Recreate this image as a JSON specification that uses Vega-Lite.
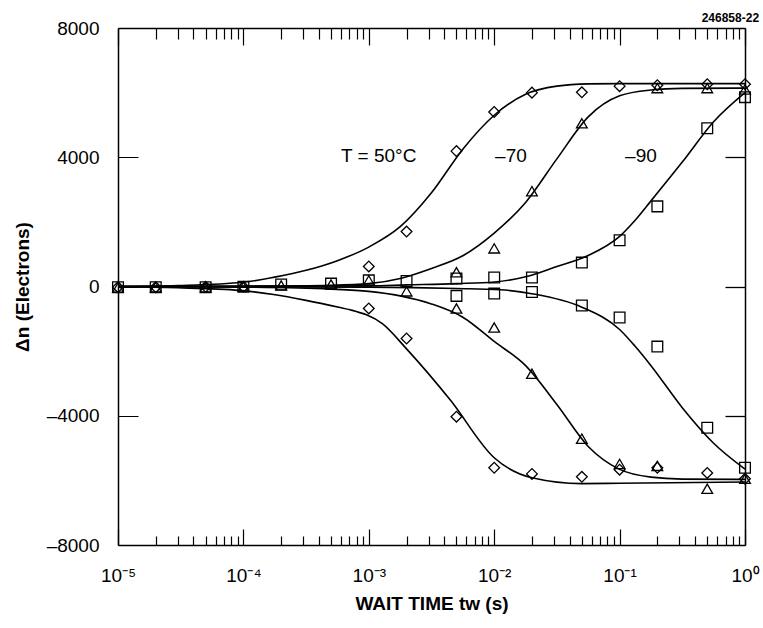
{
  "$schema": "https://vega.github.io/schema/vega-lite/v6.json",
  "autosize": "none",
  "width": 627,
  "height": 517,
  "padding": {"left": 118, "top": 28, "right": 18, "bottom": 83},
  "background": "white",
  "title": {"text": "246858-22", "anchor": "end", "fontSize": 12, "font": "Liberation Sans", "fontWeight": "bold", "color": "black", "offset": 4, "dy": 10},
  "config": {
    "view": {"stroke": null},
    "font": "Liberation Sans",
    "axis": {"grid": false, "domainColor": "black", "domainWidth": 1.5, "labelColor": "black", "titleColor": "black", "labelFont": "Liberation Sans", "titleFont": "Liberation Sans"}
  },
  "datasets": {
    "pts": [
      {"t": 1e-5, "n": -20, "s": "50"}, {"t": 2e-5, "n": -20, "s": "50"}, {"t": 5e-5, "n": -10, "s": "50"}, {"t": 1e-4, "n": -10, "s": "50"},
      {"t": 1e-3, "n": 620, "s": "50"}, {"t": 2e-3, "n": 1700, "s": "50"}, {"t": 5e-3, "n": 4190, "s": "50"}, {"t": 1e-2, "n": 5400, "s": "50"},
      {"t": 2e-2, "n": 6000, "s": "50"}, {"t": 5e-2, "n": 6010, "s": "50"}, {"t": 0.1, "n": 6200, "s": "50"}, {"t": 0.2, "n": 6230, "s": "50"},
      {"t": 0.5, "n": 6260, "s": "50"}, {"t": 1, "n": 6260, "s": "50"},
      {"t": 1e-3, "n": -680, "s": "50"}, {"t": 2e-3, "n": -1610, "s": "50"}, {"t": 5e-3, "n": -4030, "s": "50"}, {"t": 1e-2, "n": -5610, "s": "50"},
      {"t": 2e-2, "n": -5800, "s": "50"}, {"t": 5e-2, "n": -5890, "s": "50"}, {"t": 0.1, "n": -5670, "s": "50"}, {"t": 0.2, "n": -5610, "s": "50"},
      {"t": 0.5, "n": -5770, "s": "50"}, {"t": 1, "n": -5950, "s": "50"},
      {"t": 1e-5, "n": -30, "s": "-70"}, {"t": 2e-5, "n": -20, "s": "-70"}, {"t": 5e-5, "n": -20, "s": "-70"}, {"t": 1e-4, "n": -10, "s": "-70"},
      {"t": 2e-4, "n": 30, "s": "-70"}, {"t": 5e-4, "n": 60, "s": "-70"}, {"t": 1e-3, "n": 190, "s": "-70"},
      {"t": 5e-3, "n": 440, "s": "-70"}, {"t": 1e-2, "n": 1180, "s": "-70"}, {"t": 2e-2, "n": 2950, "s": "-70"}, {"t": 5e-2, "n": 5050, "s": "-70"},
      {"t": 0.2, "n": 6140, "s": "-70"}, {"t": 0.5, "n": 6140, "s": "-70"}, {"t": 1, "n": 6100, "s": "-70"},
      {"t": 2e-3, "n": -150, "s": "-70"}, {"t": 5e-3, "n": -680, "s": "-70"}, {"t": 1e-2, "n": -1270, "s": "-70"}, {"t": 2e-2, "n": -2700, "s": "-70"},
      {"t": 5e-2, "n": -4710, "s": "-70"}, {"t": 0.1, "n": -5490, "s": "-70"}, {"t": 0.2, "n": -5550, "s": "-70"}, {"t": 0.5, "n": -6260, "s": "-70"},
      {"t": 1, "n": -5950, "s": "-70"},
      {"t": 1e-5, "n": -20, "s": "-90"}, {"t": 2e-5, "n": -20, "s": "-90"}, {"t": 5e-5, "n": -20, "s": "-90"}, {"t": 1e-4, "n": -10, "s": "-90"},
      {"t": 2e-4, "n": 60, "s": "-90"}, {"t": 5e-4, "n": 90, "s": "-90"}, {"t": 1e-3, "n": 190, "s": "-90"}, {"t": 2e-3, "n": 170, "s": "-90"},
      {"t": 5e-3, "n": 250, "s": "-90"}, {"t": 1e-2, "n": 280, "s": "-90"}, {"t": 2e-2, "n": 280, "s": "-90"}, {"t": 5e-2, "n": 740, "s": "-90"},
      {"t": 0.1, "n": 1430, "s": "-90"}, {"t": 0.2, "n": 2480, "s": "-90"}, {"t": 0.5, "n": 4900, "s": "-90"}, {"t": 1, "n": 5860, "s": "-90"},
      {"t": 5e-3, "n": -290, "s": "-90"}, {"t": 1e-2, "n": -220, "s": "-90"}, {"t": 2e-2, "n": -170, "s": "-90"}, {"t": 5e-2, "n": -590, "s": "-90"},
      {"t": 0.1, "n": -960, "s": "-90"}, {"t": 0.2, "n": -1860, "s": "-90"}, {"t": 0.5, "n": -4370, "s": "-90"}, {"t": 1, "n": -5610, "s": "-90"}
    ],
    "curves": [
      {"t": 1e-5, "n": 0, "c": "50+"}, {"t": 3e-5, "n": 30, "c": "50+"}, {"t": 1e-4, "n": 130, "c": "50+"}, {"t": 1.78e-4, "n": 290, "c": "50+"},
      {"t": 3.16e-4, "n": 500, "c": "50+"}, {"t": 5.62e-4, "n": 800, "c": "50+"}, {"t": 1e-3, "n": 1220, "c": "50+"}, {"t": 1.78e-3, "n": 1850, "c": "50+"},
      {"t": 3.16e-3, "n": 2900, "c": "50+"}, {"t": 5.62e-3, "n": 4250, "c": "50+"}, {"t": 1e-2, "n": 5300, "c": "50+"}, {"t": 1.78e-2, "n": 5950, "c": "50+"},
      {"t": 3.16e-2, "n": 6200, "c": "50+"}, {"t": 5.62e-2, "n": 6270, "c": "50+"}, {"t": 0.1, "n": 6280, "c": "50+"}, {"t": 1, "n": 6280, "c": "50+"},
      {"t": 1e-5, "n": -10, "c": "50-"}, {"t": 3e-5, "n": -40, "c": "50-"}, {"t": 9.3e-5, "n": -120, "c": "50-"}, {"t": 1.74e-4, "n": -250, "c": "50-"},
      {"t": 3.16e-4, "n": -430, "c": "50-"}, {"t": 5.89e-4, "n": -650, "c": "50-"}, {"t": 7.1e-4, "n": -720, "c": "50-"}, {"t": 1.29e-3, "n": -1160, "c": "50-"},
      {"t": 2e-3, "n": -1930, "c": "50-"}, {"t": 4.5e-3, "n": -3530, "c": "50-"}, {"t": 1e-2, "n": -5300, "c": "50-"}, {"t": 2e-2, "n": -5920, "c": "50-"},
      {"t": 5e-2, "n": -6100, "c": "50-"}, {"t": 0.1, "n": -6090, "c": "50-"}, {"t": 1, "n": -6050, "c": "50-"},
      {"t": 1e-5, "n": 0, "c": "70+"}, {"t": 1e-4, "n": 10, "c": "70+"}, {"t": 5e-4, "n": 40, "c": "70+"}, {"t": 1e-3, "n": 90, "c": "70+"},
      {"t": 1.78e-3, "n": 250, "c": "70+"}, {"t": 3.16e-3, "n": 560, "c": "70+"}, {"t": 5.62e-3, "n": 950, "c": "70+"}, {"t": 1e-2, "n": 1650, "c": "70+"},
      {"t": 1.78e-2, "n": 2600, "c": "70+"}, {"t": 3.16e-2, "n": 3950, "c": "70+"}, {"t": 5.62e-2, "n": 5250, "c": "70+"}, {"t": 0.1, "n": 5900, "c": "70+"},
      {"t": 0.178, "n": 6080, "c": "70+"}, {"t": 0.316, "n": 6130, "c": "70+"}, {"t": 1, "n": 6140, "c": "70+"},
      {"t": 1e-5, "n": 0, "c": "70-"}, {"t": 1e-4, "n": -20, "c": "70-"}, {"t": 5e-4, "n": -80, "c": "70-"}, {"t": 1e-3, "n": -150, "c": "70-"},
      {"t": 1.78e-3, "n": -290, "c": "70-"}, {"t": 3.16e-3, "n": -540, "c": "70-"}, {"t": 5.62e-3, "n": -950, "c": "70-"}, {"t": 1e-2, "n": -1700, "c": "70-"},
      {"t": 1.78e-2, "n": -2450, "c": "70-"}, {"t": 3.16e-2, "n": -3650, "c": "70-"}, {"t": 5.62e-2, "n": -4950, "c": "70-"}, {"t": 0.1, "n": -5660, "c": "70-"},
      {"t": 0.178, "n": -5900, "c": "70-"}, {"t": 0.316, "n": -5960, "c": "70-"}, {"t": 1, "n": -5970, "c": "70-"},
      {"t": 1e-5, "n": 0, "c": "90+"}, {"t": 1e-3, "n": 20, "c": "90+"}, {"t": 2e-3, "n": 50, "c": "90+"}, {"t": 5e-3, "n": 90, "c": "90+"},
      {"t": 1e-2, "n": 140, "c": "90+"}, {"t": 1.78e-2, "n": 300, "c": "90+"}, {"t": 3.16e-2, "n": 620, "c": "90+"}, {"t": 5.62e-2, "n": 960, "c": "90+"},
      {"t": 0.1, "n": 1550, "c": "90+"}, {"t": 0.133, "n": 2050, "c": "90+"}, {"t": 0.178, "n": 2650, "c": "90+"}, {"t": 0.316, "n": 3850, "c": "90+"},
      {"t": 0.562, "n": 5100, "c": "90+"}, {"t": 1, "n": 6000, "c": "90+"},
      {"t": 1e-5, "n": 0, "c": "90-"}, {"t": 1e-3, "n": -20, "c": "90-"}, {"t": 5e-3, "n": -60, "c": "90-"}, {"t": 1.11e-2, "n": -100, "c": "90-"},
      {"t": 2.05e-2, "n": -230, "c": "90-"}, {"t": 5e-2, "n": -640, "c": "90-"}, {"t": 0.1, "n": -1330, "c": "90-"}, {"t": 0.133, "n": -1850, "c": "90-"},
      {"t": 0.178, "n": -2450, "c": "90-"}, {"t": 0.316, "n": -3750, "c": "90-"}, {"t": 0.562, "n": -4850, "c": "90-"}, {"t": 1, "n": -5650, "c": "90-"}
    ],
    "labels": [
      {"t": 1.2e-3, "n": 4050, "txt": "T = 50°C"},
      {"t": 1.36e-2, "n": 4050, "txt": "–70"},
      {"t": 0.148, "n": 4050, "txt": "–90"}
    ]
  },
  "resolve": {"axis": {"x": "independent", "y": "independent"}},
  "layer": [
    {
      "data": {"name": "pts"},
      "mark": {"type": "point", "filled": false, "stroke": "black", "strokeWidth": 1.3, "size": 115, "opacity": 1},
      "encoding": {
        "x": {"field": "t", "type": "quantitative",
          "scale": {"type": "log", "domain": [1e-5, 1], "nice": false},
          "axis": {"orient": "bottom", "title": "WAIT TIME tᴡ (s)", "titleFontSize": 19, "titleFontWeight": "bold", "titlePadding": 9,
            "values": [1e-5, 1e-4, 1e-3, 1e-2, 0.1, 1], "ticks": false,
            "labelExpr": "datum.value > 0.5 ? '10⁰' : datum.value > 0.05 ? '10⁻¹' : datum.value > 0.005 ? '10⁻²' : datum.value > 0.0005 ? '10⁻³' : datum.value > 0.00005 ? '10⁻⁴' : '10⁻⁵'",
            "labelFontSize": 19, "labelPadding": 21, "labelOverlap": false, "labelFlush": false, "labelBound": false}},
        "y": {"field": "n", "type": "quantitative",
          "scale": {"domain": [-8000, 8000], "nice": false},
          "axis": {"orient": "left", "title": "Δn (Electrons)", "titleFontSize": 19, "titleFontWeight": "bold", "titlePadding": 14,
            "values": [-8000, -4000, 0, 4000, 8000], "ticks": false,
            "labelExpr": "datum.value < 0 ? '–' + abs(datum.value) : '' + datum.value",
            "labelFontSize": 19, "labelPadding": 19}},
        "shape": {"field": "s", "type": "nominal", "scale": {"domain": ["50", "-70", "-90"], "range": ["diamond", "triangle-up", "square"]}, "legend": null}
      }
    },
    {
      "data": {"name": "curves"},
      "mark": {"type": "line", "color": "black", "strokeWidth": 1.6, "interpolate": "monotone"},
      "encoding": {
        "x": {"field": "t", "type": "quantitative",
          "axis": {"orient": "top", "title": null, "labels": false, "ticks": false}},
        "y": {"field": "n", "type": "quantitative",
          "axis": {"orient": "right", "title": null, "labels": false, "ticks": false}},
        "detail": {"field": "c", "type": "nominal"}
      }
    },
    {
      "data": {"name": "labels"},
      "mark": {"type": "text", "fontSize": 19, "font": "Liberation Sans", "color": "black", "align": "center", "baseline": "middle"},
      "encoding": {
        "x": {"field": "t", "type": "quantitative",
          "axis": {"orient": "bottom", "title": null, "labels": false, "domain": false, "ticks": true, "tickSize": 16, "offset": -16, "tickColor": "black", "tickWidth": 1.2,
            "values": [1e-5, 1e-4, 1e-3, 1e-2, 0.1, 1]}},
        "y": {"field": "n", "type": "quantitative",
          "axis": {"orient": "left", "title": null, "labels": false, "domain": false, "ticks": true, "tickSize": 20, "offset": -20, "tickColor": "black", "tickWidth": 1,
            "values": [-4000, 0, 4000]}},
        "text": {"field": "txt"}
      }
    },
    {
      "data": {"name": "labels"},
      "mark": {"type": "text", "opacity": 0},
      "encoding": {
        "x": {"field": "t", "type": "quantitative",
          "axis": {"orient": "bottom", "title": null, "labels": false, "domain": false, "ticks": true, "tickSize": 9, "offset": -9, "tickColor": "black", "tickWidth": 1.2,
            "values": [2e-5,3e-5,4e-5,5e-5,6e-5,7e-5,8e-5,9e-5,2e-4,3e-4,4e-4,5e-4,6e-4,7e-4,8e-4,9e-4,2e-3,3e-3,4e-3,5e-3,6e-3,7e-3,8e-3,9e-3,2e-2,3e-2,4e-2,5e-2,6e-2,7e-2,8e-2,9e-2,0.2,0.3,0.4,0.5,0.6,0.7,0.8,0.9]}},
        "y": {"field": "n", "type": "quantitative",
          "axis": {"orient": "right", "title": null, "labels": false, "domain": false, "ticks": true, "tickSize": 20, "offset": -20, "tickColor": "black", "tickWidth": 1.3,
            "values": [-4000, 0, 4000]}},
        "text": {"field": "txt"}
      }
    },
    {
      "data": {"name": "labels"},
      "mark": {"type": "text", "opacity": 0},
      "encoding": {
        "x": {"field": "t", "type": "quantitative",
          "axis": {"orient": "top", "title": null, "labels": false, "domain": false, "ticks": true, "tickSize": 17, "offset": -17, "tickColor": "black", "tickWidth": 1.2,
            "values": [1e-5, 1e-4, 1e-3, 1e-2, 0.1, 1]}},
        "y": {"field": "n", "type": "quantitative", "axis": null},
        "text": {"field": "txt"}
      }
    },
    {
      "data": {"name": "labels"},
      "mark": {"type": "text", "opacity": 0},
      "encoding": {
        "x": {"field": "t", "type": "quantitative",
          "axis": {"orient": "top", "title": null, "labels": false, "domain": false, "ticks": true, "tickSize": 11, "offset": -11, "tickColor": "black", "tickWidth": 1.2,
            "values": [2e-5,3e-5,4e-5,5e-5,6e-5,7e-5,8e-5,9e-5,2e-4,3e-4,4e-4,5e-4,6e-4,7e-4,8e-4,9e-4,2e-3,3e-3,4e-3,5e-3,6e-3,7e-3,8e-3,9e-3,2e-2,3e-2,4e-2,5e-2,6e-2,7e-2,8e-2,9e-2,0.2,0.3,0.4,0.5,0.6,0.7,0.8,0.9]}},
        "y": {"field": "n", "type": "quantitative", "axis": null},
        "text": {"field": "txt"}
      }
    }
  ]
}
